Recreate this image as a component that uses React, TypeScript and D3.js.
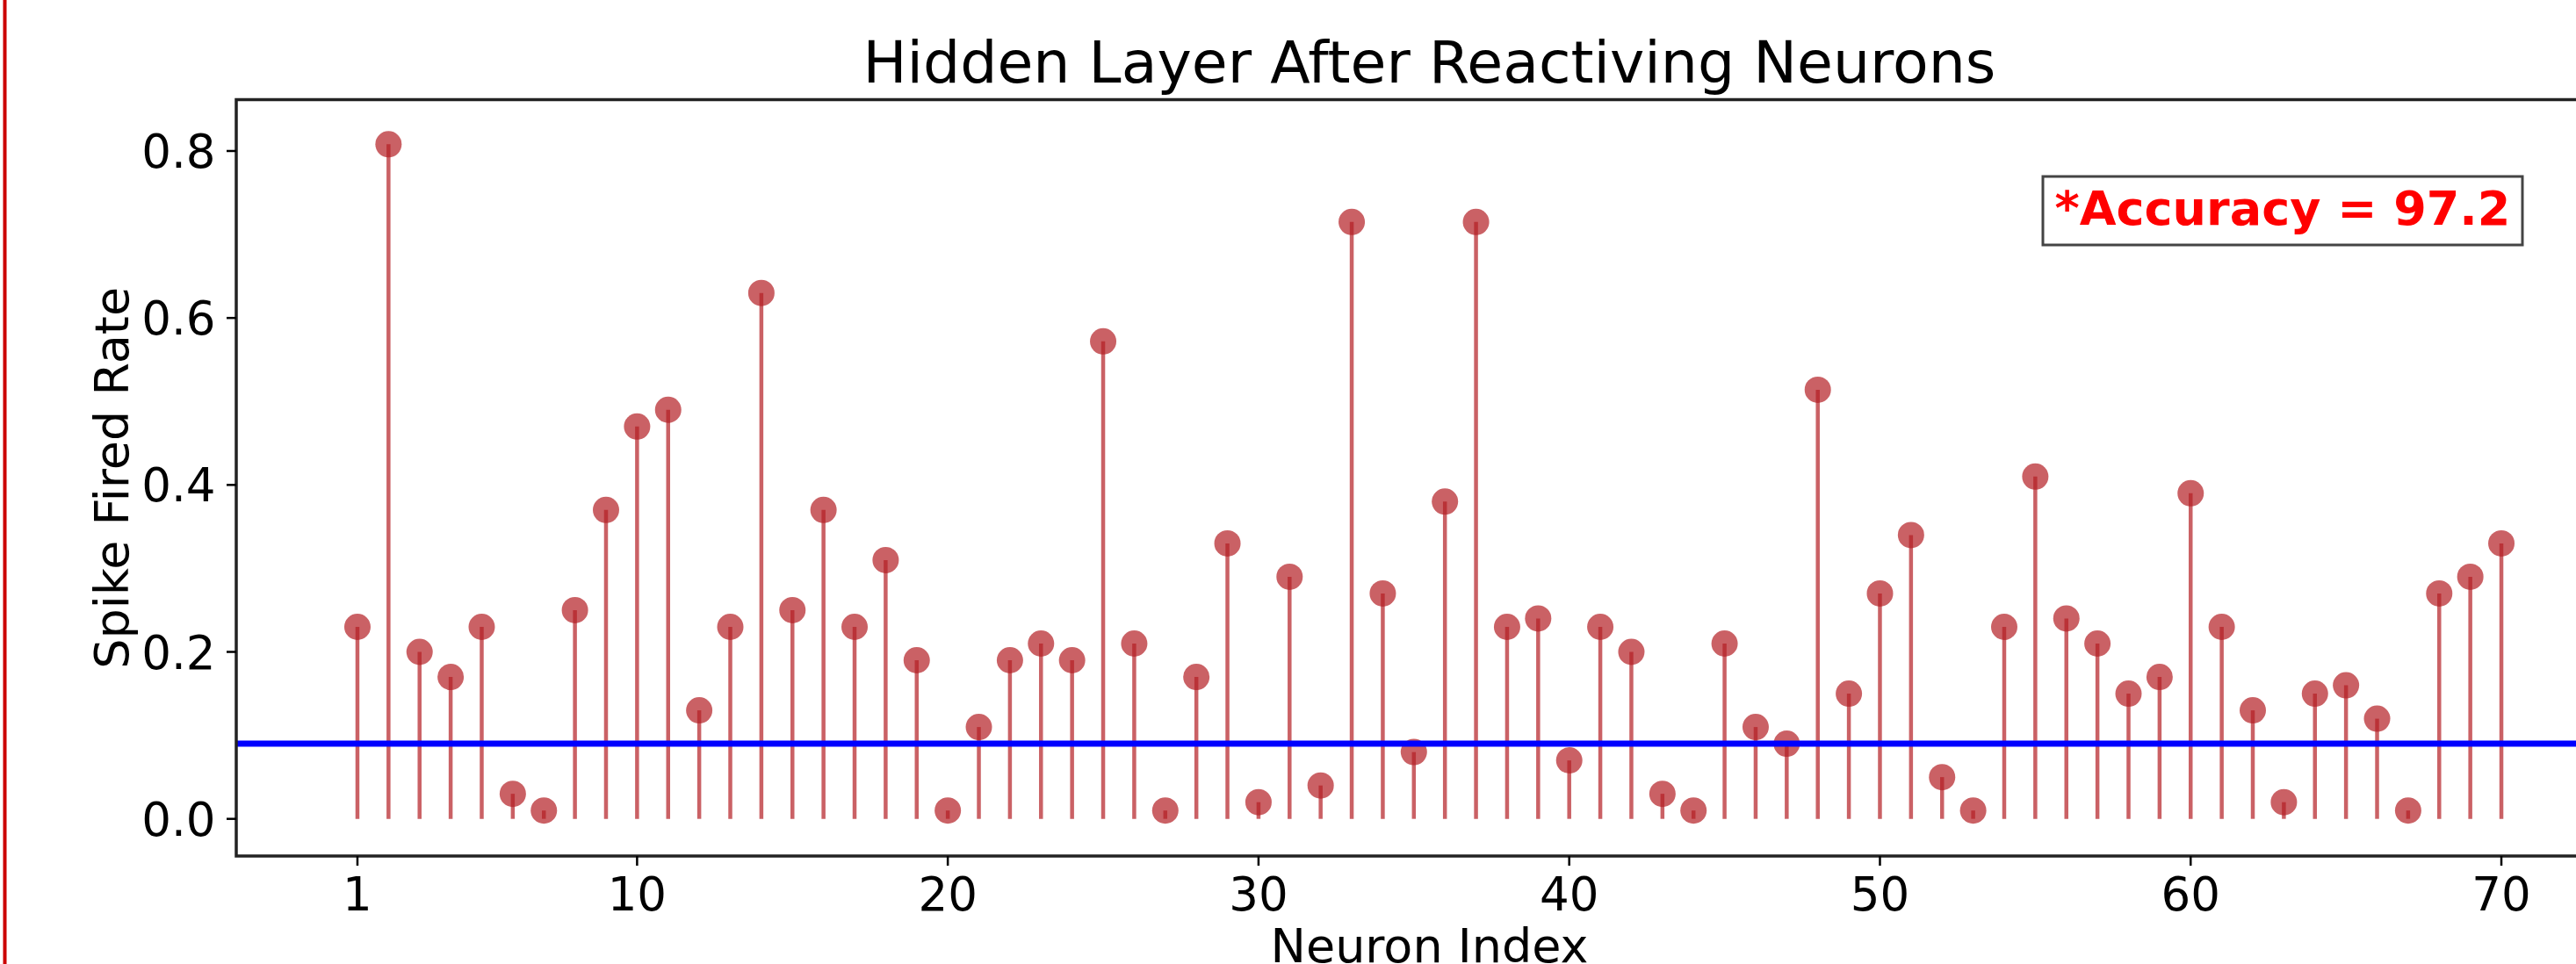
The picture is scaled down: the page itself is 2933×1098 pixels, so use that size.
import React from "react";
import * as d3 from "d3";

// ---- data ----
const firedRate = [
  0.23, 0.808, 0.2, 0.17, 0.23, 0.03, 0.01, 0.25, 0.37, 0.47,
  0.49, 0.13, 0.23, 0.63, 0.25, 0.37, 0.23, 0.31, 0.19, 0.01,
  0.11, 0.19, 0.21, 0.19, 0.572, 0.21, 0.01, 0.17, 0.33, 0.02,
  0.29, 0.04, 0.715, 0.27, 0.08, 0.38, 0.715, 0.23, 0.24, 0.07,
  0.23, 0.2, 0.03, 0.01, 0.21, 0.11, 0.09, 0.514, 0.15, 0.27,
  0.34, 0.05, 0.01, 0.23, 0.41, 0.24, 0.21, 0.15, 0.17, 0.39,
  0.23, 0.13, 0.02, 0.15, 0.16, 0.12, 0.01, 0.27, 0.29, 0.33,
];
const neuronIndex = firedRate.map((_, i) => i + 1);
const xTickValues = [1, 10, 20, 30, 40, 50, 60, 70];
const yTickValues = [0, 0.2, 0.4, 0.6, 0.8];
const threshold = 0.09;
const titleText = "Hidden Layer After Reactiving Neurons";
const xLabelText = "Neuron Index";
const yLabelText = "Spike Fired Rate";
const accuracyText = "*Accuracy = 97.2";

// ---- layout ----
const W = 2933;
const H = 1098;
const left = 269;
const right = 2986;
const top = 113.5;
const bottom = 975;
const FONT = "'DejaVu Sans', 'Liberation Sans', sans-serif";

export default function App() {
  const x = d3.scaleLinear().domain([-2.9, 73.9]).range([left, right]);
  const y = d3.scaleLinear().domain([-0.0445, 0.8615]).range([bottom, top]);
  const stemColor = "rgb(180,30,35)";
  const yFmt = d3.format(".1f");

  return (
    <svg
      width={W}
      height={H}
      viewBox={`0 0 ${W} ${H}`}
      style={{ position: "absolute", left: 0, top: 0, background: "#fff" }}
    >
      <rect x={0} y={0} width={W} height={H} fill="#fff" />
      {/* red border line at left */}
      <line x1={5.5} x2={5.5} y1={0} y2={H} stroke="#cc0000" strokeWidth={4} />

      {/* title */}
      <text x={(left + right) / 2} y={94} textAnchor="middle" fontFamily={FONT} fontSize={66.5} fill="#000">
        {titleText}
      </text>

      {/* stems */}
      <g>
        {firedRate.map((v, i) => (
          <line
            key={"s" + i}
            x1={x(neuronIndex[i])}
            x2={x(neuronIndex[i])}
            y1={y(0)}
            y2={y(v)}
            stroke={stemColor}
            strokeOpacity={0.7}
            strokeWidth={4.5}
          />
        ))}
        {firedRate.map((v, i) => (
          <circle
            key={"m" + i}
            cx={x(neuronIndex[i])}
            cy={y(v)}
            r={15}
            fill={stemColor}
            fillOpacity={0.7}
          />
        ))}
      </g>

      {/* threshold line */}
      <line x1={left} x2={right} y1={y(threshold)} y2={y(threshold)} stroke="#0000ff" strokeWidth={7} />

      {/* accuracy box */}
      <rect x={2326} y={201} width={546} height={78} fill="#fff" stroke="#444" strokeWidth={3} />
      <text x={2599} y={256} textAnchor="middle" fontFamily={FONT} fontWeight="bold" fontSize={54} fill="#ff0000">
        {accuracyText}
      </text>

      {/* spines */}
      <rect x={left} y={top} width={right - left} height={bottom - top} fill="none" stroke="#222" strokeWidth={3.5} />

      {/* y ticks */}
      {yTickValues.map((t) => (
        <g key={"yt" + t}>
          <line x1={left - 11} x2={left} y1={y(t)} y2={y(t)} stroke="#000" strokeWidth={2.5} />
          <text x={245.5} y={y(t) + 19} textAnchor="end" fontFamily={FONT} fontSize={53} fill="#000">
            {yFmt(t)}
          </text>
        </g>
      ))}

      {/* x ticks */}
      {xTickValues.map((t) => (
        <g key={"xt" + t}>
          <line x1={x(t)} x2={x(t)} y1={bottom} y2={bottom + 11} stroke="#000" strokeWidth={2.5} />
          <text x={x(t)} y={1036.5} textAnchor="middle" fontFamily={FONT} fontSize={53} fill="#000">
            {String(t)}
          </text>
        </g>
      ))}

      {/* axis labels */}
      <text x={(left + right) / 2} y={1096} textAnchor="middle" fontFamily={FONT} fontSize={54} fill="#000">
        {xLabelText}
      </text>
      <text
        transform={`translate(145.5, ${(top + bottom) / 2}) rotate(-90)`}
        textAnchor="middle"
        fontFamily={FONT}
        fontSize={54}
        fill="#000"
      >
        {yLabelText}
      </text>
    </svg>
  );
}
